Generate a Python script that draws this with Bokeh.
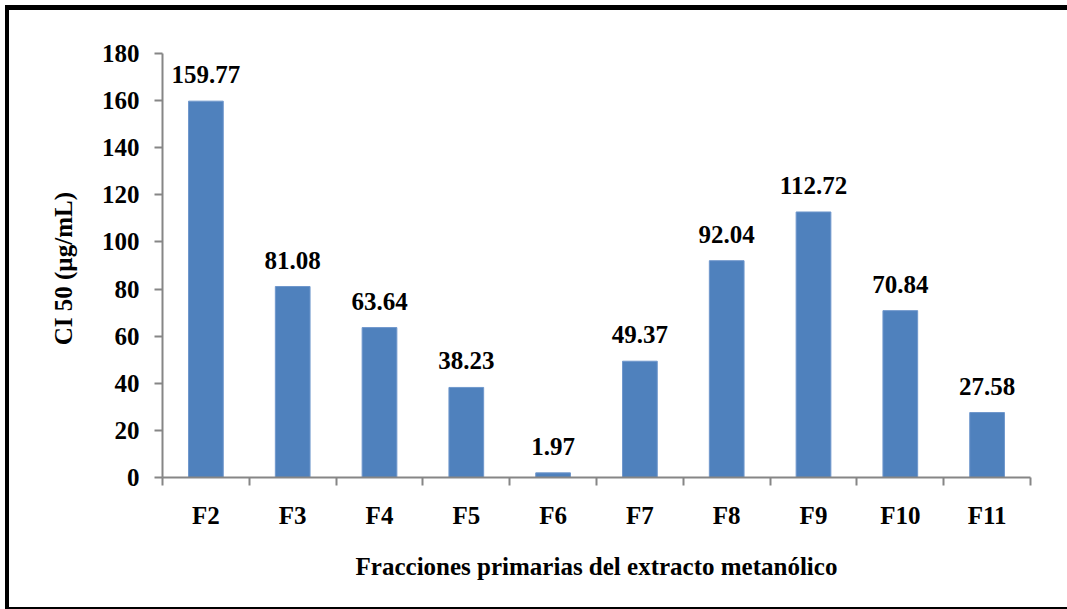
import numpy as np
from bokeh.plotting import figure
from bokeh.models import ColumnDataSource, FixedTicker, LabelSet, Range1d
from bokeh.embed import file_html
from bokeh.resources import INLINE

categories = ["F2", "F3", "F4", "F5", "F6", "F7", "F8", "F9", "F10", "F11"]
values = [159.77, 81.08, 63.64, 38.23, 1.97, 49.37, 92.04, 112.72, 70.84, 27.58]
y_ticks = [0, 20, 40, 60, 80, 100, 120, 140, 160, 180]

FONT = "Liberation Serif"
AXIS_GREY = "#868686"
BAR_BLUE = "#4F81BD"

x_pos = np.arange(len(categories)) + 0.5
labels = [f"{v:.2f}" for v in values]
src = ColumnDataSource(dict(x=x_pos, top=values, label=labels))

p = figure(width=1100, height=604, output_backend="svg", toolbar_location=None,
           x_range=Range1d(0, len(categories)), y_range=Range1d(0, 180),
           min_border_left=153, min_border_top=43, min_border_right=79, min_border_bottom=137,
           styles={"border-left": "4px solid black", "border-top": "5px solid black",
                   "border-bottom": "2px solid black",
                   "margin-left": "5px", "margin-top": "5px", "overflow": "hidden"})
p.outline_line_color = None
p.xgrid.visible = False
p.ygrid.visible = False

p.vbar(x="x", top="top", bottom=0, width=0.4, source=src,
       fill_color=BAR_BLUE, line_color="#6f97cc", line_width=1)

lbl = LabelSet(x="x", y="top", text="label", source=src, text_align="center",
               text_baseline="alphabetic", y_offset=18,
               text_font=FONT, text_font_style="bold", text_font_size="25px",
               text_color="black")
p.add_layout(lbl)

# x axis: labels at centers, tick marks at boundaries
xt = FixedTicker(ticks=list(x_pos), minor_ticks=list(range(len(categories) + 1)))
p.xaxis.ticker = xt
p.xaxis.major_label_overrides = {float(x): c for x, c in zip(x_pos, categories)}
p.xaxis.major_tick_line_color = None
p.xaxis.major_tick_out = 8
p.xaxis.major_tick_in = 0
p.xaxis.minor_tick_line_color = AXIS_GREY
p.xaxis.minor_tick_line_width = 2
p.xaxis.minor_tick_out = 8
p.xaxis.minor_tick_in = 0
p.xaxis.axis_line_color = AXIS_GREY
p.xaxis.axis_line_width = 2
p.xaxis.major_label_standoff = 16
p.xaxis.axis_label = "Fracciones primarias del extracto metanólico"
p.xaxis.axis_label_standoff = 21

p.yaxis.ticker = FixedTicker(ticks=y_ticks, minor_ticks=[])
p.yaxis.major_tick_line_color = AXIS_GREY
p.yaxis.major_tick_line_width = 2
p.yaxis.major_tick_out = 8
p.yaxis.major_tick_in = 0
p.yaxis.minor_tick_line_color = None
p.yaxis.axis_line_color = AXIS_GREY
p.yaxis.axis_line_width = 2
p.yaxis.major_label_standoff = 15
p.yaxis.axis_label = "CI 50  (µg/mL)"
p.yaxis.axis_label_standoff = 22

for ax in (p.xaxis[0], p.yaxis[0]):
    ax.major_label_text_font = FONT
    ax.major_label_text_font_style = "bold"
    ax.major_label_text_font_size = "25px"
    ax.major_label_text_color = "black"
    ax.axis_label_text_font = FONT
    ax.axis_label_text_font_style = "bold"
    ax.axis_label_text_font_size = "25px"
    ax.axis_label_text_color = "black"

open("out.html", "w").write(file_html(p, INLINE))
